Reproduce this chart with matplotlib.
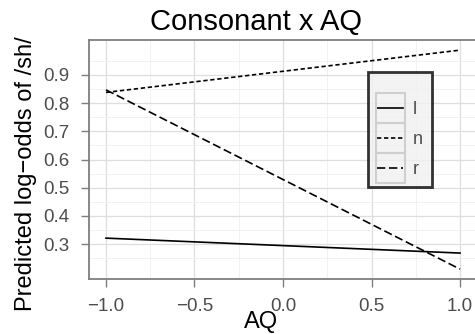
import matplotlib
matplotlib.use("Agg")
import matplotlib.pyplot as plt
from matplotlib.ticker import MultipleLocator
from matplotlib.patches import Rectangle
import numpy as np

plt.rcParams['font.family'] = ['Liberation Sans', 'DejaVu Sans']

# predicted values at the ends of the AQ range
aq = [-1.0, 1.0]
consonants = ["l", "n", "r"]
pred_l = [0.321, 0.268]
pred_n = [0.838, 0.988]
pred_r = [0.847, 0.211]

styles = {"l": "-", "n": (0, (2.6, 1.6)), "r": (0, (5.0, 2.2))}
series = {"l": pred_l, "n": pred_n, "r": pred_r}

W, H = 475, 334
fig = plt.figure(figsize=(W / 100, H / 100), dpi=100)
ax = fig.add_axes([89 / W, (H - 279) / H, 388 / W, 239 / H])

for c in consonants:
    ax.plot(aq, series[c], color="black", lw=1.2, linestyle=styles[c], label=c)

ax.set_xlim(-1.096, 1.096)
ax.set_ylim(0.176, 1.024)
ax.xaxis.set_minor_locator(MultipleLocator(0.25))
ax.set_yticks([0.3, 0.4, 0.5, 0.6, 0.7, 0.8, 0.9])
ax.set_yticks(np.arange(0.25, 1.0, 0.1), minor=True)
ax.set_xticks([-1.0, -0.5, 0.0, 0.5, 1.0])
ax.set_xticklabels(["\u22121.0", "\u22120.5", "0.0", "0.5", "1.0"])

ax.grid(which="major", color="#dedede", lw=0.9)
ax.grid(which="minor", color="#efefef", lw=0.6)
ax.set_axisbelow(True)
for s in ["left", "bottom", "top"]:
    ax.spines[s].set_color("#7f7f7f")
    ax.spines[s].set_linewidth(1.3)
ax.spines["right"].set_visible(False)
ax.tick_params(which="major", length=5.5, color="#7f7f7f", labelsize=13.5,
               labelcolor="#4d4d4d", width=1, pad=8.5)
ax.tick_params(which="minor", length=0)

leg = ax.legend(loc="upper left", bbox_to_anchor=((368 - 89) / 388, (279 - 72) / 239),
                frameon=True, fontsize=13, handlelength=1.45, labelspacing=0.72,
                borderpad=0.5, handletextpad=0.55, borderaxespad=0, fancybox=False,
                title=" ", title_fontsize=6)
leg.get_frame().set_facecolor("#f0f0f0")
leg.get_frame().set_edgecolor("black")
leg.get_frame().set_linewidth(2)
for t in leg.get_texts():
    t.set_color("#4d4d4d")

fig.text(256 / W, 1 - 22 / H, "Consonant x AQ", ha="center", va="center", fontsize=21)
fig.text(261 / W, 1 - 322 / H, "AQ", ha="center", va="center", fontsize=17)
fig.text(26 / W, 1 - 174 / H, "Predicted log\u2212odds of /sh/", ha="center", va="center",
         rotation=90, fontsize=17)

# gray boxes around legend keys
fig.canvas.draw()
for h in leg.legend_handles:
    bb = h.get_window_extent()
    cx, cy = (bb.x0 + bb.x1) / 2, (bb.y0 + bb.y1) / 2
    bw, bh = 29, 30
    fig.add_artist(Rectangle(((cx - bw / 2) / W, (cy - bh / 2) / H), bw / W, bh / H,
                             transform=fig.transFigure, facecolor="none",
                             edgecolor="#cfcfcf", lw=1.5, zorder=6))

fig.savefig("out.png", dpi=100)
